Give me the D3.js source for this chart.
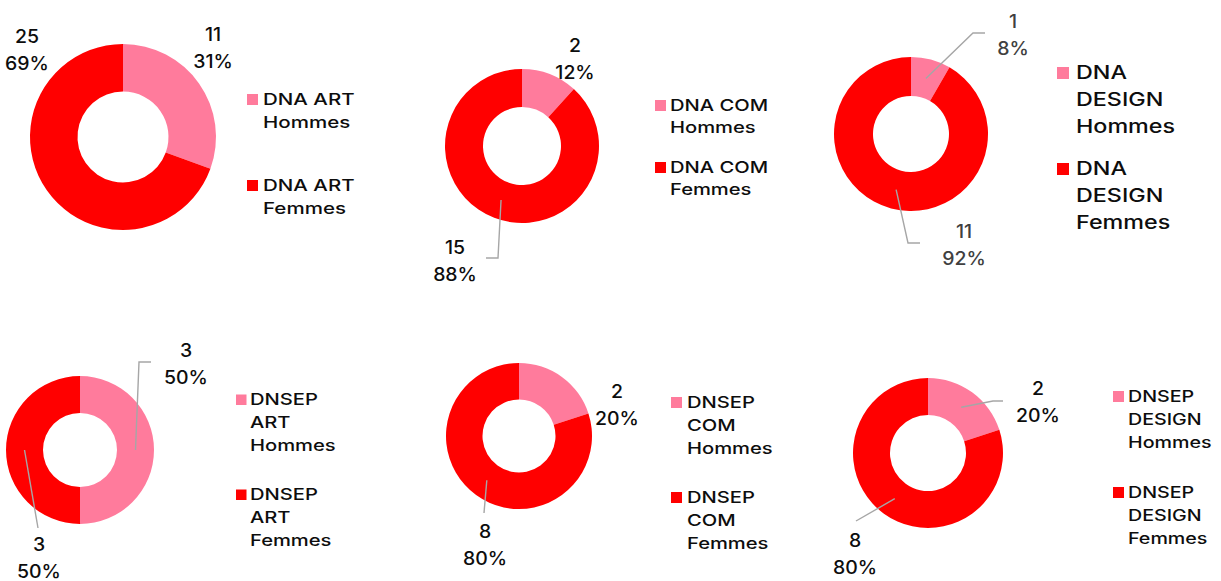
<!DOCTYPE html>
<html>
<head>
<meta charset="utf-8">
<script src="https://cdn.jsdelivr.net/npm/d3@7"></script>
<style>
  html, body { margin: 0; padding: 0; background: #fff; }
  svg { display: block; }
  text { font-family: Inter, "Liberation Sans", Arial, sans-serif; font-weight: 500; }
</style>
</head>
<body>
<svg id="chart" width="1221" height="581"></svg>
<script>
// Diplômés par filière et par genre
const programmes = ["DNA ART", "DNA COM", "DNA DESIGN", "DNSEP ART", "DNSEP COM", "DNSEP DESIGN"];
const genres = ["Hommes", "Femmes"];
const hommes = [11, 2, 1, 3, 2, 2];
const femmes = [25, 15, 11, 3, 8, 8];
const colours = ["#ff7b9c", "#ff0000"];

// Placement of each donut, its labels and its legend
const layout = [
  { cx: 123, cy: 137, R: 93, r: 45.5,
    labels: [{ x: 90, y: -96 }, { x: -96, y: -94 }], leaders: [null, null],
    legend: { sx: 247, tx: 263, ys: [105, 191], lh: 22.5, fs: 16.3, sq: 11, wrap: false } },
  { cx: 522, cy: 146, R: 77, r: 39,
    labels: [{ x: 53, y: -94 }, { x: -67, y: 108 }], leaders: [null, [[-24, 112], [-36, 112]]],
    legend: { sx: 655, tx: 670, ys: [111, 173], lh: 22, fs: 16, sq: 11, wrap: false } },
  { cx: 911, cy: 134, R: 77, r: 38, labelColour: "#404040",
    labels: [{ x: 102, y: -106 }, { x: 53, y: 104 }],
    leaders: [[[62, -101], [74, -101]], [[-3, 109], [9, 109]]],
    legend: { sx: 1057, tx: 1076, ys: [79, 175], lh: 27, fs: 18.5, sq: 12, wrap: true } },
  { cx: 80, cy: 450, R: 74, r: 37,
    labels: [{ x: 106, y: -93 }, { x: -41, y: 101 }],
    leaders: [[[59, -88], [71, -88]], [[-42, 78]]],
    legend: { sx: 236, tx: 250, ys: [405, 500], lh: 23, fs: 16, sq: 10.5, wrap: true } },
  { cx: 519, cy: 436, R: 73, r: 36.5,
    labels: [{ x: 98, y: -38 }, { x: -34, y: 102 }],
    leaders: [null, [[-35, 77]]],
    legend: { sx: 671, tx: 687, ys: [408, 503], lh: 23, fs: 16, sq: 11, wrap: true } },
  { cx: 928, cy: 453, R: 75, r: 38,
    labels: [{ x: 110, y: -58 }, { x: -73, y: 94 }],
    leaders: [[[65, -52], [75, -52]], [[-72, 68]]],
    legend: { sx: 1113, tx: 1128, ys: [402, 498], lh: 23, fs: 15.6, sq: 11, wrap: true } }
];

const svg = d3.select("#chart");
const pie = d3.pie().sort(null).value(d => d.value);
const labelScaleX = 1.08;
const legendScaleX = 1.26;

programmes.forEach((prog, i) => {
  const L = layout[i];
  const data = [
    { genre: genres[0], value: hommes[i] },
    { genre: genres[1], value: femmes[i] }
  ];
  const total = d3.sum(data, d => d.value);
  const arc = d3.arc().innerRadius(L.r).outerRadius(L.R);
  const colour = d3.scaleOrdinal().domain(genres).range(colours);

  const g = svg.append("g").attr("transform", `translate(${L.cx},${L.cy})`);
  const arcs = pie(data);

  g.selectAll("path.slice")
    .data(arcs)
    .join("path")
    .attr("class", "slice")
    .attr("d", arc)
    .attr("fill", d => colour(d.data.genre));

  // leader lines from slice centroid to the label
  arcs.forEach((a, k) => {
    const pts = L.leaders[k];
    if (!pts) return;
    const line = [arc.centroid(a)].concat(pts);
    g.append("path")
      .attr("d", d3.line()(line))
      .attr("fill", "none")
      .attr("stroke", "#a6a6a6")
      .attr("stroke-width", 1.4);
  });

  // value + percentage labels
  arcs.forEach((a, k) => {
    const p = L.labels[k];
    const pct = Math.round(a.data.value / total * 100) + "%";
    [String(a.data.value), pct].forEach((t, j) => {
      g.append("text")
        .attr("transform", `translate(${p.x},${p.y + j * 27}) scale(${labelScaleX},1)`)
        .attr("text-anchor", "middle")
        .attr("font-size", 18)
        .attr("fill", L.labelColour || "#0d0d0d")
        .text(t);
    });
  });

  // legend
  const lg = L.legend;
  genres.forEach((genre, k) => {
    const y0 = lg.ys[k];
    svg.append("rect")
      .attr("x", lg.sx)
      .attr("y", y0 - lg.sq)
      .attr("width", lg.sq)
      .attr("height", lg.sq)
      .attr("fill", colour(genre));
    const lines = lg.wrap ? prog.split(" ").concat([genre]) : [prog, genre];
    lines.forEach((t, j) => {
      svg.append("text")
        .attr("transform", `translate(${lg.tx},${y0 + j * lg.lh}) scale(${legendScaleX},1)`)
        .attr("font-size", lg.fs)
        .attr("fill", "#0d0d0d")
        .text(t);
    });
  });
});
</script>
</body>
</html>
